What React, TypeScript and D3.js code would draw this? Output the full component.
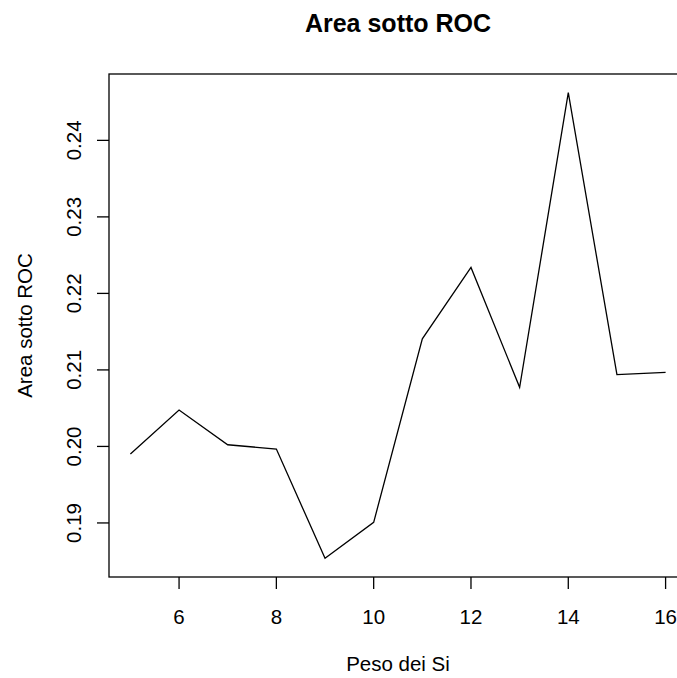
import React from "react";
import * as d3 from "d3";

const pesi: number[] = [5, 6, 7, 8, 9, 10, 11, 12, 13, 14, 15, 16];
const aree: number[] = [0.1990, 0.20476, 0.20022, 0.19966, 0.18537, 0.19008, 0.21406, 0.22340, 0.20772, 0.24624, 0.20938, 0.20969];
const xTicks: number[] = [6, 8, 10, 12, 14, 16];
const yTicks: number[] = [0.19, 0.20, 0.21, 0.22, 0.23, 0.24];

const W = 677;
const H = 678;
const left = 109;
const right = 687;
const top = 74;
const bottom = 577;
const font = "'Liberation Sans', Arial, Helvetica, sans-serif";
const labelSize = 20.5;

export default function App() {
  // R-style 4% padding around data range
  const [x0, x1] = d3.extent(pesi) as [number, number];
  const [y0, y1] = d3.extent(aree) as [number, number];
  const px = (x1 - x0) * 0.04;
  const py = (y1 - y0) * 0.04;
  const x = d3.scaleLinear().domain([x0 - px, x1 + px]).range([left, right]);
  const y = d3.scaleLinear().domain([y0 - py, y1 + py]).range([bottom, top]);

  const line = d3
    .line<number>()
    .x((_, i) => x(pesi[i]))
    .y((d) => y(d));

  return (
    <svg
      width={W}
      height={H}
      style={{ position: "absolute", left: 0, top: 0, background: "#fff" }}
      fontFamily={font}
    >
      <rect x={0} y={0} width={W} height={H} fill="#fff" />
      <path d={line(aree) ?? ""} fill="none" stroke="#000" strokeWidth={1.3} />
      <rect
        x={left}
        y={top}
        width={right - left}
        height={bottom - top}
        fill="none"
        stroke="#000"
        strokeWidth={1.3}
      />
      {xTicks.map((t) => (
        <g key={`x${t}`}>
          <line x1={x(t)} x2={x(t)} y1={bottom} y2={bottom + 12} stroke="#000" strokeWidth={1.3} />
          <text x={x(t)} y={624} fontSize={labelSize} textAnchor="middle" fill="#000">
            {t}
          </text>
        </g>
      ))}
      {yTicks.map((t) => (
        <g key={`y${t}`}>
          <line x1={left - 12} x2={left} y1={y(t)} y2={y(t)} stroke="#000" strokeWidth={1.3} />
          <text
            transform={`translate(81,${y(t)}) rotate(-90)`}
            fontSize={labelSize}
            textAnchor="middle"
            fill="#000"
          >
            {t.toFixed(2)}
          </text>
        </g>
      ))}
      <text x={(left + right) / 2} y={32} fontSize={25} fontWeight="bold" textAnchor="middle" fill="#000">
        Area sotto ROC
      </text>
      <text x={(left + right) / 2} y={671} fontSize={labelSize} textAnchor="middle" fill="#000">
        Peso dei Si
      </text>
      <text
        transform={`translate(32,${(top + bottom) / 2}) rotate(-90)`}
        fontSize={labelSize}
        textAnchor="middle"
        fill="#000"
      >
        Area sotto ROC
      </text>
    </svg>
  );
}
